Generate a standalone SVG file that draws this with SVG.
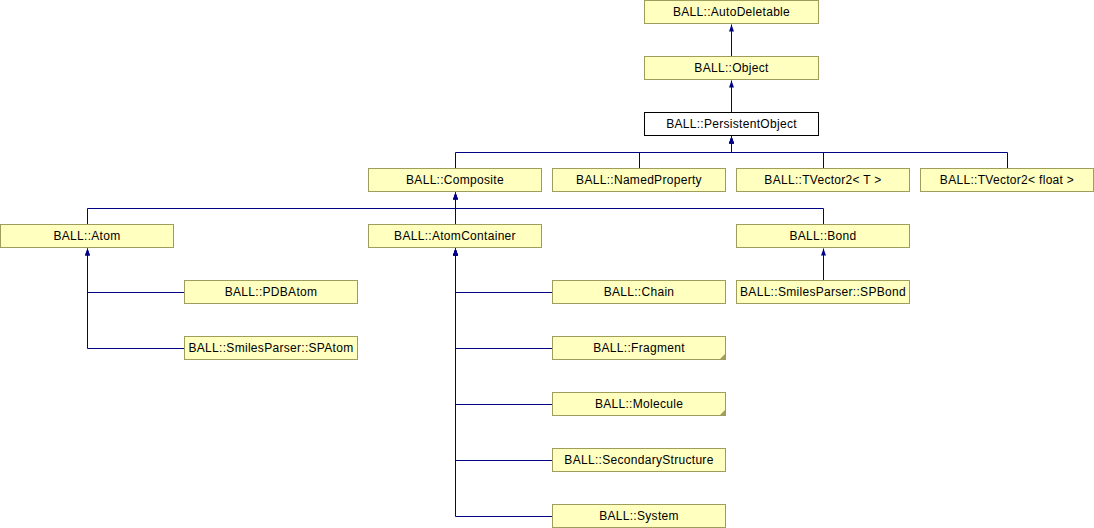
<svg xmlns="http://www.w3.org/2000/svg" width="1094" height="528" viewBox="0 0 1094 528">
<style>
.n rect{fill:#ffffc0;stroke:#9e9e5a;stroke-width:1}
.n.w rect{fill:#ffffff;stroke:#000000}
.n text{font-family:"Liberation Sans",Arial,sans-serif;font-size:12px;letter-spacing:0.3px;fill:#000;text-anchor:middle}
.fold{fill:#9e9e5a;stroke:none}
#edges path{fill:none;stroke:#000088;stroke-width:1;marker-end:url(#arr)}
</style>
<defs>
<marker id="arr" markerUnits="userSpaceOnUse" markerWidth="8" markerHeight="6" refX="7" refY="3" orient="auto">
<path d="M0,0.5 L7,3 L0,5.5 z" fill="#000088"/>
</marker>
</defs>
<rect width="1094" height="528" fill="#ffffff"/>
<g id="edges">
<path d="M731.5,56.5 V24.5"/>
<path d="M731.5,112.5 V80.5"/>
<path d="M455.5,168.5 V152.5 H731.5 V136.5"/>
<path d="M639.5,168.5 V152.5 H731.5 V136.5"/>
<path d="M823.5,168.5 V152.5 H731.5 V136.5"/>
<path d="M1007.5,168.5 V152.5 H731.5 V136.5"/>
<path d="M87.5,224.5 V208.5 H455.5 V192.5"/>
<path d="M455.5,224.5 V192.5"/>
<path d="M823.5,224.5 V208.5 H455.5 V192.5"/>
<path d="M184.5,292.5 H87.5 V248.5"/>
<path d="M184.5,348.5 H87.5 V248.5"/>
<path d="M552.5,292.5 H455.5 V248.5"/>
<path d="M552.5,348.5 H455.5 V248.5"/>
<path d="M552.5,404.5 H455.5 V248.5"/>
<path d="M552.5,460.5 H455.5 V248.5"/>
<path d="M552.5,516.5 H455.5 V248.5"/>
<path d="M823.5,280.5 V248.5"/>
</g>
<g id="autodeletable" class="n"><rect x="644.5" y="0.5" width="174" height="23"/><text x="731.5" y="16">BALL::AutoDeletable</text></g>
<g id="object" class="n"><rect x="644.5" y="56.5" width="174" height="23"/><text x="731.5" y="72">BALL::Object</text></g>
<g id="persistentobject" class="n w"><rect x="644.5" y="112.5" width="174" height="23"/><text x="731.5" y="128">BALL::PersistentObject</text></g>
<g id="composite" class="n"><rect x="368.5" y="168.5" width="173" height="23"/><text x="455" y="184">BALL::Composite</text></g>
<g id="namedproperty" class="n"><rect x="552.5" y="168.5" width="173" height="23"/><text x="639" y="184">BALL::NamedProperty</text></g>
<g id="tvector2t" class="n"><rect x="736.5" y="168.5" width="173" height="23"/><text x="823" y="184">BALL::TVector2&lt; T &gt;</text></g>
<g id="tvector2float" class="n"><rect x="920.5" y="168.5" width="173" height="23"/><text x="1007" y="184">BALL::TVector2&lt; float &gt;</text></g>
<g id="atom" class="n"><rect x="0.5" y="224.5" width="173" height="23"/><text x="87" y="240">BALL::Atom</text></g>
<g id="atomcontainer" class="n"><rect x="368.5" y="224.5" width="173" height="23"/><text x="455" y="240">BALL::AtomContainer</text></g>
<g id="bond" class="n"><rect x="736.5" y="224.5" width="173" height="23"/><text x="823" y="240">BALL::Bond</text></g>
<g id="pdbatom" class="n"><rect x="184.5" y="280.5" width="173" height="23"/><text x="271" y="296">BALL::PDBAtom</text></g>
<g id="spatom" class="n"><rect x="184.5" y="336.5" width="173" height="23"/><text x="271" y="352">BALL::SmilesParser::SPAtom</text></g>
<g id="spbond" class="n"><rect x="736.5" y="280.5" width="173" height="23"/><text x="823" y="296">BALL::SmilesParser::SPBond</text></g>
<g id="chain" class="n"><rect x="552.5" y="280.5" width="173" height="23"/><text x="639" y="296">BALL::Chain</text></g>
<g id="fragment" class="n"><rect x="552.5" y="336.5" width="173" height="23"/><polygon class="fold" points="719.5,359.5 725.5,353.5 725.5,359.5"/><text x="639" y="352">BALL::Fragment</text></g>
<g id="molecule" class="n"><rect x="552.5" y="392.5" width="173" height="23"/><polygon class="fold" points="719.5,415.5 725.5,409.5 725.5,415.5"/><text x="639" y="408">BALL::Molecule</text></g>
<g id="secondarystructure" class="n"><rect x="552.5" y="448.5" width="173" height="23"/><text x="639" y="464">BALL::SecondaryStructure</text></g>
<g id="system" class="n"><rect x="552.5" y="504.5" width="173" height="23"/><text x="639" y="520">BALL::System</text></g>
</svg>
